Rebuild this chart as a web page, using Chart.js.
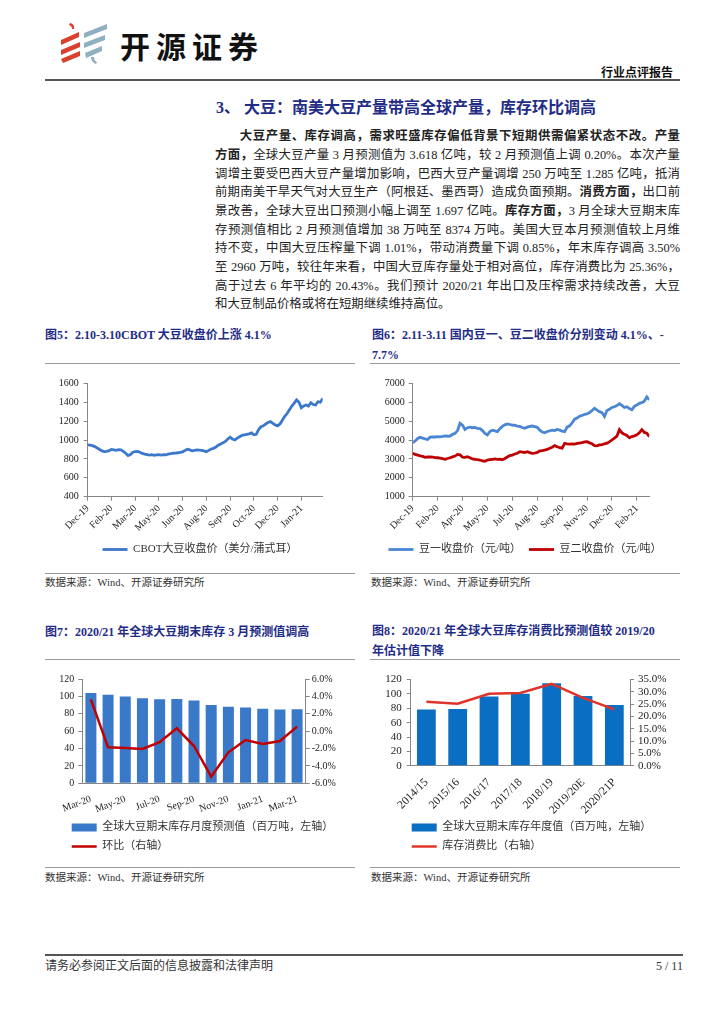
<!DOCTYPE html>
<html lang="zh-CN">
<head>
<meta charset="utf-8">
<title>大豆：南美大豆产量带高全球产量，库存环比调高</title>
<script src="https://cdn.jsdelivr.net/npm/chart.js@4.4.1/dist/chart.umd.min.js"></script>
<style>
  html, body { margin: 0; padding: 0; background: #fff; }
  body { font-family: "Liberation Serif", "Noto Sans CJK SC", serif; color: #222; }
  #page { position: relative; width: 724px; height: 1024px; overflow: hidden; }
  .abs { position: absolute; white-space: nowrap; }
  .rule { position: absolute; height: 0; border-top: 1.5px solid #9a9a9a; }
  .rule.dark { border-top: 2px solid #555; }
  .fig-title { position: absolute; font-size: 12px; font-weight: bold; color: #1f2d86; line-height: 20px; white-space: nowrap; }
  .source { position: absolute; font-size: 10.5px; color: #333; line-height: 14px; white-space: nowrap; }
  .para { position: absolute; left: 215px; top: 127.3px; width: 465px; font-size: 12.4px; color: #222; }
  .para div { height: 18.7px; line-height: 18.7px; text-align: justify; text-align-last: justify; }
  .para div.last { text-align-last: left; }
  .para b { font-weight: bold; }
  canvas { position: absolute; }
</style>
</head>
<body>
<div id="page">
  <!-- header -->
  <svg class="abs" style="left:0;top:0" width="120" height="70">
    <g fill="#d9412e">
      <path d="M70 23 Q75 24 74 29 L72 29 Q72 26 69 25 Z"/>
      <polygon points="61,40 79,32 79,37 61,45"/>
      <polygon points="61,50 80,42 80,47 61,55"/>
      <polygon points="61,59 80,51 80,56 63,63"/>
    </g>
    <g fill="#8fb0c1">
      <polygon points="84,33 107,24 107,29 84,38"/>
      <polygon points="84,43 105,35 105,40 84,48"/>
      <polygon points="85,53 102,46 102,51 86,58"/>
      <path d="M91 57 L94 57 Q94 61 97 62 L96 64 Q91 62 91 57 Z"/>
    </g>
  </svg>
  <div class="abs" style="left:120px;top:30px;font-size:30px;line-height:30px;font-weight:bold;letter-spacing:6px;color:#111;font-family:'Noto Sans CJK SC'">开源证券</div>
  <div class="abs" style="left:601px;top:66px;font-size:12px;line-height:15px;font-weight:bold;color:#111">行业点评报告</div>
  <div class="rule dark" style="left:45px;top:79px;width:635px"></div>

  <!-- section text -->
  <div class="abs" style="left:216px;top:98px;font-size:16px;line-height:20px;font-weight:bold;color:#1f2d86">3、 大豆：南美大豆产量带高全球产量，库存环比调高</div>
  <div class="para">
    <div style="text-indent:2em"><b>大豆产量、库存调高，需求旺盛库存偏低背景下短期供需偏紧状态不改。产量</b></div>
    <div><b>方面，</b>全球大豆产量 3 月预测值为 3.618 亿吨，较 2 月预测值上调 0.20%。本次产量</div>
    <div>调增主要受巴西大豆产量增加影响，巴西大豆产量调增 250 万吨至 1.285 亿吨，抵消</div>
    <div>前期南美干旱天气对大豆生产（阿根廷、墨西哥）造成负面预期。<b>消费方面，</b>出口前</div>
    <div>景改善，全球大豆出口预测小幅上调至 1.697 亿吨。<b>库存方面，</b>3 月全球大豆期末库</div>
    <div>存预测值相比 2 月预测值增加 38 万吨至 8374 万吨。美国大豆本月预测值较上月维</div>
    <div>持不变，中国大豆压榨量下调 1.01%，带动消费量下调 0.85%，年末库存调高 3.50%</div>
    <div>至 2960 万吨，较往年来看，中国大豆库存量处于相对高位，库存消费比为 25.36%，</div>
    <div>高于过去 6 年平均的 20.43%。我们预计 2020/21 年出口及压榨需求持续改善，大豆</div>
    <div class="last">和大豆制品价格或将在短期继续维持高位。</div>
  </div>

  <!-- figure 5 -->
  <div class="fig-title" style="left:45px;top:325px">图5：2.10-3.10CBOT 大豆收盘价上涨 4.1%</div>
  <div class="rule" style="left:45px;top:362.5px;width:310px"></div>
  <canvas id="fig5" width="310" height="193" style="left:45px;top:372px"></canvas>
  <div class="rule" style="left:45px;top:572.5px;width:310px"></div>
  <div class="source" style="left:45px;top:576px">数据来源：Wind、开源证券研究所</div>

  <!-- figure 6 -->
  <div class="fig-title" style="left:372px;top:325px">图6：2.11-3.11 国内豆一、豆二收盘价分别变动 4.1%、-<br>7.7%</div>
  <div class="rule" style="left:370px;top:362.5px;width:310px"></div>
  <canvas id="fig6" width="310" height="193" style="left:370px;top:372px"></canvas>
  <div class="rule" style="left:370px;top:572.5px;width:310px"></div>
  <div class="source" style="left:371px;top:576px">数据来源：Wind、开源证券研究所</div>

  <!-- figure 7 -->
  <div class="fig-title" style="left:45px;top:622px">图7：2020/21 年全球大豆期末库存 3 月预测值调高</div>
  <div class="rule" style="left:45px;top:658.5px;width:310px"></div>
  <canvas id="fig7" width="310" height="194" style="left:45px;top:668px"></canvas>
  <div class="rule" style="left:45px;top:867px;width:310px"></div>
  <div class="source" style="left:45px;top:871px">数据来源：Wind、开源证券研究所</div>

  <!-- figure 8 -->
  <div class="fig-title" style="left:372px;top:621px">图8：2020/21 年全球大豆库存消费比预测值较 2019/20<br>年估计值下降</div>
  <div class="rule" style="left:370px;top:658.5px;width:310px"></div>
  <canvas id="fig8" width="310" height="194" style="left:370px;top:668px"></canvas>
  <div class="rule" style="left:370px;top:867px;width:310px"></div>
  <div class="source" style="left:371px;top:871px">数据来源：Wind、开源证券研究所</div>

  <!-- footer -->
  <div class="rule dark" style="left:45px;top:954px;width:638px"></div>
  <div class="abs" style="left:45px;top:959px;font-size:12px;line-height:15px;color:#333">请务必参阅正文后面的信息披露和法律声明</div>
  <div class="abs" style="left:656px;top:959px;font-size:12px;line-height:15px;color:#333">5 / 11</div>
</div>

<script>
// ---------- data ----------
// 图5: CBOT soybean close (cents/bu), Dec-19 .. Mar-21
const cbotTickLabels = ['Dec-19', 'Feb-20', 'Mar-20', 'May-20', 'Jun-20', 'Aug-20', 'Sep-20', 'Oct-20', 'Dec-20', 'Jan-21'];
const cbotClose = [
    948, 945, 940, 930, 915, 900, 885, 878, 880, 888, 900,
    895, 890, 898, 895, 880, 860, 835, 845, 870, 878,
    880, 870, 858, 850, 845, 840, 845, 838, 842, 845,
    840, 845, 842, 852, 855, 860, 862, 865, 870, 875,
    890, 902, 895, 885, 890, 895, 893, 890, 885, 875,
    890, 905, 912, 925, 945, 958, 970, 985, 1010, 1030,
    1010, 1000, 1020, 1035, 1050, 1055, 1060, 1065, 1075, 1055,
    1060, 1110, 1140, 1150, 1170, 1185, 1195, 1175, 1160, 1150,
    1170, 1210, 1250, 1280, 1320, 1360, 1390, 1425, 1400, 1340,
    1360, 1370, 1360, 1395, 1375, 1370, 1405, 1400, 1440
];

// 图6: DCE soybean No.1 / No.2 close (yuan/t)
const dceTickLabels = ['Dec-19', 'Feb-20', 'Apr-20', 'May-20', 'Jul-20', 'Aug-20', 'Sep-20', 'Nov-20', 'Dec-20', 'Feb-21'];
const soy1Close = [
    3860, 3950, 4080, 4140, 4100, 4060, 4030, 4150, 4170, 4160, 4180,
    4170, 4190, 4220, 4200, 4210, 4300, 4350, 4500, 4880, 4780,
    4560, 4650, 4680, 4650, 4660, 4620, 4600, 4500, 4350, 4270,
    4450, 4520, 4480, 4440, 4600, 4720, 4800, 4850, 4820, 4790,
    4780, 4740, 4720, 4660, 4620, 4680, 4720, 4740, 4710, 4670,
    4520, 4420, 4380, 4450, 4480, 4520, 4500, 4560, 4520, 4470,
    4440, 4680, 4750, 4900, 5100, 5160, 5260, 5300, 5360, 5380,
    5450, 5560, 5680, 5580, 5500, 5450, 5240, 5560, 5620, 5720,
    5760, 5820, 5920, 5830, 5720, 5760, 5660, 5600, 5780, 5850,
    5940, 5980, 6050, 6280, 6120
];
const soy2Close = [
    3300, 3240, 3200, 3160, 3130, 3080, 3100, 3110, 3090, 3070, 3060,
    3040, 3010, 2980, 3020, 3060, 3110, 3150, 3240, 3220, 3090,
    3080, 3120, 3060, 3000, 2980, 2960, 2940, 2900, 2870, 2940,
    2960, 2980, 3000, 2980, 2990, 2960, 3020, 3100, 3180, 3200,
    3260, 3300, 3380, 3360, 3340, 3380, 3330, 3290, 3310, 3340,
    3420, 3440, 3470, 3500, 3560, 3620, 3700, 3640, 3590, 3570,
    3820, 3790, 3780, 3790, 3780, 3820, 3840, 3860, 3900, 3910,
    3850, 3800, 3700, 3690, 3740, 3760, 3800, 3830, 3900, 4000,
    4100, 4200, 4550, 4380, 4300, 4240, 4120, 4180, 4220, 4270,
    4380, 4550, 4400, 4360, 4180
];

// 图7: 2020/21 global ending stocks, monthly forecast (mn t) and MoM change (%)
const stockMonths = ['Mar-20', 'Apr-20', 'May-20', 'Jun-20', 'Jul-20', 'Aug-20', 'Sep-20', 'Oct-20', 'Nov-20', 'Dec-20', 'Jan-21', 'Feb-21', 'Mar-21'];
const stockMonthly = [104.0, 101.9, 99.9, 97.8, 96.6, 96.9, 95.2, 90.2, 88.0, 87.1, 85.8, 84.9, 85.3];
const stockMoM = [3.66, -1.86, -1.93, -2.05, -1.28, 0.33, -1.71, -5.23, -2.43, -1.02, -1.47, -1.13, 0.52];

// 图8: yearly ending stocks (mn t) and stocks-to-use ratio (%)
const seasons = ['2014/15', '2015/16', '2016/17', '2017/18', '2018/19', '2019/20E', '2020/21P'];
const stockYearly = [78.5, 79.0, 96.5, 100.2, 115.0, 97.0, 84.5];
const stockToUse = [26.0, 25.2, 29.2, 29.6, 33.3, 27.6, 22.9];

// ---------- helpers ----------
const TICK_EVERY = 10;          // one date label every 10 points on the daily charts
const AXIS_GREY = '#868686';

Chart.defaults.font.family = '"Liberation Serif", "Noto Sans CJK SC", serif';
Chart.defaults.color = '#222';
Chart.defaults.animation = false;
Chart.defaults.responsive = false;
Chart.defaults.plugins.tooltip.enabled = false;

// axis sizes are pinned so the plot areas sit where the page expects them
const fixWidth = w => scale => { scale.width = w; };
const fixHeight = h => scale => { scale.height = h; };

// nudges the legend sideways after layout (wrapping is already decided by then)
const legendShift = {
    id: 'legendShift',
    afterLayout(chart, args, opts) {
        const lg = chart.legend;
        if (!lg || !opts.dx) return;
        lg.left += opts.dx;
        lg.right += opts.dx;
    }
};

function valueAxis(o) {
    return {
        position: o.position || 'left',
        min: o.min,
        max: o.max,
        ticks: {
            stepSize: o.step,
            autoSkip: false,
            padding: o.pad,
            font: { size: o.size },
            color: '#222',
            callback: o.format || (v => v)
        },
        grid: { drawOnChartArea: false, tickLength: o.tick, color: AXIS_GREY },
        border: { color: AXIS_GREY },
        afterFit: fixWidth(o.width)
    };
}

// empty right-hand gutter, so the legend can still use the full canvas width
function gutter(width) {
    return {
        position: 'right',
        grid: { display: false },
        border: { display: false },
        ticks: { display: false },
        afterFit: fixWidth(width)
    };
}

function dateAxis(labels, count, height) {
    return {
        type: 'linear',
        min: 0,
        max: count - 1,
        afterBuildTicks: scale => {
            scale.ticks = labels.map((_, i) => ({ value: i * TICK_EVERY }));
        },
        ticks: {
            autoSkip: false,
            minRotation: 45,
            maxRotation: 45,
            padding: 2,
            font: { size: 10 },
            color: '#222',
            callback: v => labels[Math.round(v / TICK_EVERY)]
        },
        grid: { drawOnChartArea: false, tickLength: 4, color: AXIS_GREY },
        border: { color: AXIS_GREY },
        afterFit: fixHeight(height)
    };
}

function legend(align) {
    return {
        position: 'bottom',
        align: align,
        labels: {
            usePointStyle: true,
            pointStyleWidth: 25,
            boxHeight: 8,
            padding: 8,
            font: { size: 11 },
            color: '#333',
            sort: (a, b) => a.datasetIndex - b.datasetIndex
        }
    };
}

const asPoints = arr => arr.map((v, i) => ({ x: i, y: v }));

// ---------- 图5 ----------
new Chart(document.getElementById('fig5'), {
    type: 'line',
    data: {
        datasets: [{
            label: 'CBOT大豆收盘价（美分/蒲式耳）',
            data: asPoints(cbotClose),
            borderColor: '#3b78cc',
            backgroundColor: '#3b78cc',
            borderWidth: 2.8,
            pointRadius: 0,
            pointStyle: 'line'
        }]
    },
    options: {
        layout: { padding: { left: 0, right: 0, top: 11.3, bottom: 0 } },
        plugins: { legend: legend('center') },
        scales: {
            x: dateAxis(cbotTickLabels, cbotClose.length, 39.3),
            y: valueAxis({ min: 400, max: 1600, step: 200, width: 42.7, tick: 4, pad: 5, size: 10 }),
            gap: gutter(32.3)
        }
    }
});

// ---------- 图6 ----------
new Chart(document.getElementById('fig6'), {
    type: 'line',
    data: {
        datasets: [{
            label: '豆一收盘价（元/吨）',
            data: asPoints(soy1Close),
            borderColor: '#4a86d4',
            backgroundColor: '#4a86d4',
            borderWidth: 2.8,
            pointRadius: 0,
            pointStyle: 'line'
        }, {
            label: '豆二收盘价（元/吨）',
            data: asPoints(soy2Close),
            borderColor: '#c00000',
            backgroundColor: '#c00000',
            borderWidth: 2.8,
            pointRadius: 0,
            pointStyle: 'line'
        }]
    },
    options: {
        layout: { padding: { left: 0, right: 0, top: 11.3, bottom: 0 } },
        plugins: { legend: legend('center') },
        scales: {
            x: dateAxis(dceTickLabels, soy1Close.length, 39.3),
            y: valueAxis({ min: 1000, max: 7000, step: 1000, width: 42.7, tick: 4, pad: 4, size: 10 }),
            gap: gutter(30.7)
        }
    }
});

// ---------- 图7 ----------
new Chart(document.getElementById('fig7'), {
    type: 'bar',
    data: {
        labels: stockMonths,
        datasets: [{
            label: '全球大豆期末库存月度预测值（百万吨，左轴）',
            data: stockMonthly,
            backgroundColor: '#3a78c8',
            borderWidth: 0,
            barPercentage: 0.64,
            categoryPercentage: 1,
            pointStyle: 'rect',
            yAxisID: 'y',
            order: 1
        }, {
            type: 'line',
            label: '环比（右轴）',
            data: stockMoM,
            borderColor: '#c00000',
            backgroundColor: '#c00000',
            borderWidth: 2.5,
            pointRadius: 0,
            pointStyle: 'line',
            yAxisID: 'y1',
            order: 0
        }]
    },
    plugins: [legendShift],
    options: {
        layout: { padding: { left: 0, right: 0, top: 11, bottom: 0 } },
        plugins: { legend: legend('start'), legendShift: { dx: 18.7 } },
        scales: {
            x: {
                grid: { display: false },
                border: { color: AXIS_GREY },
                ticks: {
                    autoSkip: false,
                    minRotation: 20,
                    maxRotation: 20,
                    padding: 2,
                    font: { size: 10 },
                    color: '#222',
                    callback: function (v, i) { return i % 2 === 0 ? this.getLabelForValue(v) : ''; }
                },
                afterFit: fixHeight(30.7)
            },
            y: valueAxis({ min: 0, max: 120, step: 20, width: 37.3, tick: 4, pad: 4, size: 10 }),
            y1: valueAxis({ position: 'right', min: -6, max: 6, step: 2, width: 49.3, tick: 4, pad: 2, size: 10,
                            format: v => v.toFixed(1) + '%' })
        }
    }
});

// ---------- 图8 ----------
new Chart(document.getElementById('fig8'), {
    type: 'bar',
    data: {
        labels: seasons,
        datasets: [{
            label: '全球大豆期末库存年度值（百万吨，左轴）',
            data: stockYearly,
            backgroundColor: '#0a6fc2',
            borderWidth: 0,
            barPercentage: 0.6,
            categoryPercentage: 1,
            pointStyle: 'rect',
            yAxisID: 'y',
            order: 1
        }, {
            type: 'line',
            label: '库存消费比（右轴）',
            data: stockToUse,
            borderColor: '#e0342a',
            backgroundColor: '#e0342a',
            borderWidth: 2.5,
            pointRadius: 0,
            pointStyle: 'line',
            yAxisID: 'y1',
            order: 0
        }]
    },
    plugins: [legendShift],
    options: {
        layout: { padding: { left: 0, right: 0, top: 11, bottom: 0 } },
        plugins: { legend: legend('start'), legendShift: { dx: 33.7 } },
        scales: {
            x: {
                grid: { display: false },
                border: { color: AXIS_GREY },
                ticks: {
                    autoSkip: false,
                    minRotation: 45,
                    maxRotation: 45,
                    padding: 2,
                    font: { size: 11.5 },
                    color: '#222'
                },
                afterFit: fixHeight(48.3)
            },
            y: valueAxis({ min: 0, max: 120, step: 20, width: 40.7, tick: 4, pad: 5, size: 11 }),
            y1: valueAxis({ position: 'right', min: 0, max: 35, step: 5, width: 50, tick: 4, pad: 4, size: 11,
                            format: v => v.toFixed(1) + '%' })
        }
    }
});
</script>
</body>
</html>
